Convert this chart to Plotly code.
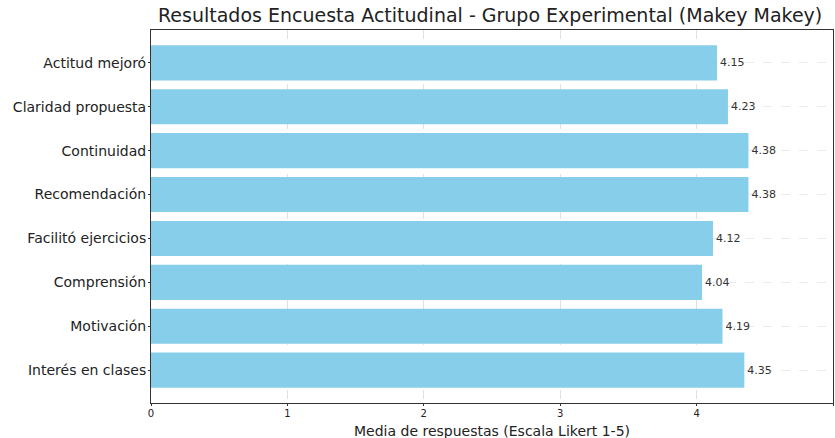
import plotly.graph_objects as go

categorias = ["Interés en clases", "Motivación", "Comprensión", "Facilitó ejercicios",
              "Recomendación", "Continuidad", "Claridad propuesta", "Actitud mejoró"]
medias = [4.35, 4.19, 4.04, 4.12, 4.38, 4.38, 4.23, 4.15]
etiquetas = [f"{v:.2f}" for v in medias]
ticks_x = [0, 1, 2, 3, 4, 5]
titulo = "Resultados Encuesta Actitudinal - Grupo Experimental (Makey Makey)"
titulo_x = "Media de respuestas (Escala Likert 1-5)"

fig = go.Figure(go.Bar(
    y=categorias, x=medias, orientation="h",
    marker=dict(color="#87CEEB", line=dict(width=0)),
    width=0.8,
    text=etiquetas, textposition="outside", cliponaxis=False,
    textfont=dict(size=11, color="#333333", family="DejaVu Sans"),
))

fig.update_layout(
    width=835, height=438,
    margin=dict(l=151, r=2, t=30, b=35, autoexpand=False),
    paper_bgcolor="white", plot_bgcolor="white",
    font=dict(family="DejaVu Sans", color="#222222"),
    title=dict(text=titulo, x=0.587, xanchor="center", y=0.966, yanchor="middle",
               font=dict(size=19, color="#222222")),
    showlegend=False,
    annotations=[dict(text=titulo_x, xref="paper", yref="paper", x=0.5, y=-0.074,
                      xanchor="center", yanchor="middle", showarrow=False,
                      font=dict(size=14, color="#222222"))],
)
fig.update_xaxes(
    range=[0, 5], tickvals=ticks_x, ticktext=[str(t) for t in ticks_x],
    showline=True, linecolor="#333333", linewidth=1, mirror=True,
    ticks="outside", ticklen=2, tickcolor="#333333",
    tickfont=dict(size=10), automargin=False, ticklabelstandoff=-1,
    showgrid=True, gridcolor="rgba(0,0,0,0.12)", griddash="dash", gridwidth=0.6,
    zeroline=False,
)
fig.update_yaxes(
    range=[-0.75, 7.75],
    showline=True, linecolor="#333333", linewidth=1, mirror=True,
    ticks="outside", ticklen=2, tickcolor="#333333",
    tickfont=dict(size=14), automargin=False, ticklabelstandoff=-1,
    showgrid=True, gridcolor="rgba(0,0,0,0.08)", griddash="dash", gridwidth=0.6,
)

fig.write_html("out.html", config={"displayModeBar": False},
               post_script="document.body.style.margin='0';")
